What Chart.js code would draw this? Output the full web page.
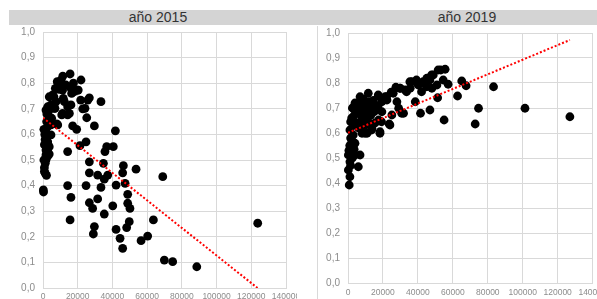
<!DOCTYPE html>
<html>
<head>
<meta charset="utf-8">
<script src="https://cdn.jsdelivr.net/npm/chart.js@4"></script>
<style>
  body { margin: 0; width: 597px; height: 299px; overflow: hidden; position: relative; background: #fff; font-family: "Liberation Sans", Arial, sans-serif; }
  .bar { position: absolute; top: 10px; height: 15px; background: #d4d4d4; }
  .title { position: absolute; top: 10px; width: 200px; line-height: 15px; text-align: center; font-size: 14px; font-weight: normal; color: #333; }
  .box { position: absolute; }
  .frame { position: absolute; left: 317px; top: 26px; height: 273px; border-left: 1px solid #d9d9d9; }
</style>
</head>
<body>
<div class="bar" style="left:9px;width:588px"></div>
<div class="title" style="left:58px">año 2015</div>
<div class="title" style="left:367px">año 2019</div>
<div class="frame"></div>
<div class="box" style="left:0;top:25px;width:297px;height:290px"><canvas id="chart2015"></canvas></div>
<div class="box" style="left:297px;top:25px;width:300px;height:274px"><canvas id="chart2019"></canvas></div>
<script>
// año 2015
const x2015 = [
  200, 300, 800, 1300, 2000, 800, 1300, 500, 1700, 2500, 1700, 3600, 2700, 1700, 3600, 2700, 2700, 1200,
  4600, 1700, 2700, 4600, 2100, 3600, 5000, 1700, 2700, 4600, 3600, 500, 1000, 800, 3200, 2200,
  5600, 6300, 6500, 6900, 7100, 7500, 7900, 8200, 8500, 9200, 9400, 10400, 10800, 10800, 11300, 11300,
  11400, 11700, 12300, 13200, 14200, 14200, 15200, 15600, 16100, 16100, 16500, 17100, 17500, 18000,
  19400, 20000, 20300, 21700, 21900, 22900, 25200, 24800, 21300, 26700, 25800, 24200, 29600, 33400,
  41700, 36700, 40500, 35700, 14200,
  14200, 16100, 15600, 26700, 26700, 24800, 26700, 28600, 31500, 31500, 29600, 29000, 35300, 34800,
  35300, 37300, 33400, 40200, 42100, 42100, 44400, 45900, 46300, 45900, 47300, 48800, 48800, 50100,
  49700, 48200, 53600, 69000, 63600, 56500, 60300, 69900, 74700, 88600, 123700
];
const y2015 = [
  0.383, 0.375, 0.455, 0.448, 0.44, 0.47, 0.487, 0.50, 0.50, 0.513, 0.52, 0.523, 0.535, 0.539, 0.552, 0.565, 0.571, 0.58,
  0.598, 0.61, 0.63, 0.637, 0.65, 0.663, 0.663, 0.695, 0.708, 0.715, 0.747, 0.62, 0.60, 0.56, 0.69, 0.68,
  0.754, 0.747, 0.702, 0.702, 0.78, 0.728, 0.641, 0.806, 0.637, 0.776, 0.80, 0.8125, 0.786, 0.676, 0.773, 0.682,
  0.828, 0.741, 0.728, 0.793, 0.708, 0.676, 0.682, 0.836, 0.78, 0.715, 0.76, 0.633, 0.80, 0.767,
  0.62, 0.773, 0.773, 0.734, 0.8125, 0.70, 0.665, 0.571, 0.556, 0.743, 0.734, 0.702, 0.633, 0.728,
  0.614, 0.552, 0.552, 0.533, 0.533,
  0.40, 0.354, 0.266, 0.493, 0.45, 0.40, 0.333, 0.311, 0.441, 0.348, 0.24, 0.211, 0.289, 0.487,
  0.425, 0.441, 0.393, 0.321, 0.402, 0.229, 0.194, 0.155, 0.478, 0.45, 0.409, 0.366, 0.331, 0.311,
  0.259, 0.236, 0.464, 0.435, 0.266, 0.185, 0.203, 0.109, 0.103, 0.083, 0.253
];
const trendX2015 = [0, 123600];
const trendY2015 = [0.665, 0.0];

// año 2019
const x2019 = [
  700, 1100, 200, 5900, 1100, 200, 4000, 6900, 2100, 4000, 2100, 3000, 1000, 500, 2500, 1500, 3500, 1500,
  9700, 13500, 18300, 18300, 10900, 8000, 1100, 3000, 2100, 3000, 4000, 6900, 11600, 17300, 22100, 25900,
  29700, 33500, 24000, 23600, 19200, 13700, 17500, 19400, 17100, 19400, 17500, 21300, 22300, 24700, 25100,
  28000, 29000, 31800, 30700,
  5000, 6000, 7000, 8000, 8500, 9000, 10000, 10500, 11000, 12000, 12500, 13000, 14000, 14500, 15000,
  15500, 16000, 5000, 6000, 7500, 9500, 12000, 3500, 1500, 2500, 4500, 8000,
  27400, 29900, 32700, 35600, 35400, 36600, 39200, 39400, 40200, 41700, 42100, 43000, 45000, 45100,
  46900, 47800, 48000, 48800, 50900, 51600, 53100, 54500, 55600, 57300, 38500, 41500, 46900, 51300,
  55000, 62700, 65100, 67600, 72800, 74700, 83300, 101300, 127000
];
const y2019 = [
  0.392, 0.425, 0.452, 0.465, 0.485, 0.512, 0.512, 0.512, 0.539, 0.559, 0.572, 0.592, 0.55, 0.53, 0.50, 0.47, 0.535, 0.58,
  0.599, 0.612, 0.599, 0.605, 0.599, 0.599, 0.612, 0.632, 0.66, 0.699, 0.72, 0.745, 0.759, 0.752, 0.745, 0.759,
  0.779, 0.765, 0.632, 0.636, 0.645, 0.619, 0.652, 0.685, 0.705, 0.725, 0.748, 0.745, 0.732, 0.763, 0.672,
  0.725, 0.699, 0.679, 0.679,
  0.70, 0.68, 0.72, 0.66, 0.70, 0.735, 0.68, 0.715, 0.65, 0.70, 0.725, 0.67, 0.70, 0.73, 0.685,
  0.64, 0.71, 0.64, 0.62, 0.645, 0.63, 0.64, 0.67, 0.645, 0.70, 0.68, 0.72,
  0.783, 0.779, 0.772, 0.779, 0.805, 0.805, 0.812, 0.805, 0.792, 0.799, 0.765, 0.805, 0.785, 0.819,
  0.812, 0.832, 0.779, 0.832, 0.792, 0.852, 0.852, 0.812, 0.855, 0.795, 0.725, 0.679, 0.692, 0.741,
  0.652, 0.748, 0.808, 0.789, 0.636, 0.699, 0.785, 0.699, 0.665
];
const trendX2019 = [0, 127000];
const trendY2019 = [0.601, 0.972];

const yTicks = [0, 0.1, 0.2, 0.3, 0.4, 0.5, 0.6, 0.7, 0.8, 0.9, 1.0];
const xTicks = [0, 20000, 40000, 60000, 80000, 100000, 120000, 140000];

const font = "'Liberation Sans', Arial, sans-serif";
const gridColor = "#d9d9d9";
const tickColor = "#8c8c8c";

function pts(xs, ys) {
  return xs.map((x, i) => ({ x: x, y: ys[i] }));
}

function makeChart(id, xs, ys, tx, ty, o) {
  const ctx = document.getElementById(id).getContext("2d");
  new Chart(ctx, {
    type: "scatter",
    data: {
      datasets: [
        {
          type: "line",
          data: pts(tx, ty),
          borderColor: "#ff0000",
          borderWidth: 2,
          borderDash: [2, 2],
          pointRadius: 0,
          fill: false,
          order: 0,
        },
        {
          data: pts(xs, ys),
          backgroundColor: "#000",
          borderColor: "#000",
          borderWidth: 0,
          pointRadius: 4.4,
          clip: false,
          order: 1,
        },
      ],
    },
    options: {
      responsive: true,
      maintainAspectRatio: false,
      animation: false,
      layout: { padding: { left: 0, right: o.right, top: o.top, bottom: 0 } },
      plugins: { legend: { display: false }, tooltip: { enabled: false } },
      scales: {
        x: {
          type: "linear",
          min: 0,
          max: 140000,
          afterBuildTicks: (s) => { s.ticks = xTicks.map((v) => ({ value: v })); },
          afterFit: (s) => { s.height = o.xh; s.paddingLeft = 0; s.paddingRight = 0; },
          grid: { color: gridColor, lineWidth: 1, drawTicks: false },
          border: { color: gridColor },
          ticks: {
            autoSkip: false,
            maxRotation: 0,
            padding: o.xpad,
            color: tickColor,
            font: { family: font, size: 8.5 },
            callback: (v) => String(v),
          },
        },
        y: {
          min: 0,
          max: 1,
          afterBuildTicks: (s) => { s.ticks = yTicks.map((v) => ({ value: v })); },
          afterFit: (s) => { s.width = o.yw; s.paddingTop = 0; s.paddingBottom = 0; },
          grid: { color: gridColor, lineWidth: 1, drawTicks: false },
          border: { color: gridColor },
          ticks: {
            padding: 8,
            color: tickColor,
            font: { family: font, size: 10 },
            callback: (v) => v.toFixed(1).replace(".", ","),
          },
        },
      },
    },
  });
}

makeChart("chart2015", x2015, y2015, trendX2015, trendY2015, { right: 11, top: 7, xh: 27, yw: 43, xpad: 4 });
makeChart("chart2019", x2019, y2019, trendX2019, trendY2019, { right: 4, top: 8, xh: 16, yw: 51, xpad: 5 });
</script>
</body>
</html>
